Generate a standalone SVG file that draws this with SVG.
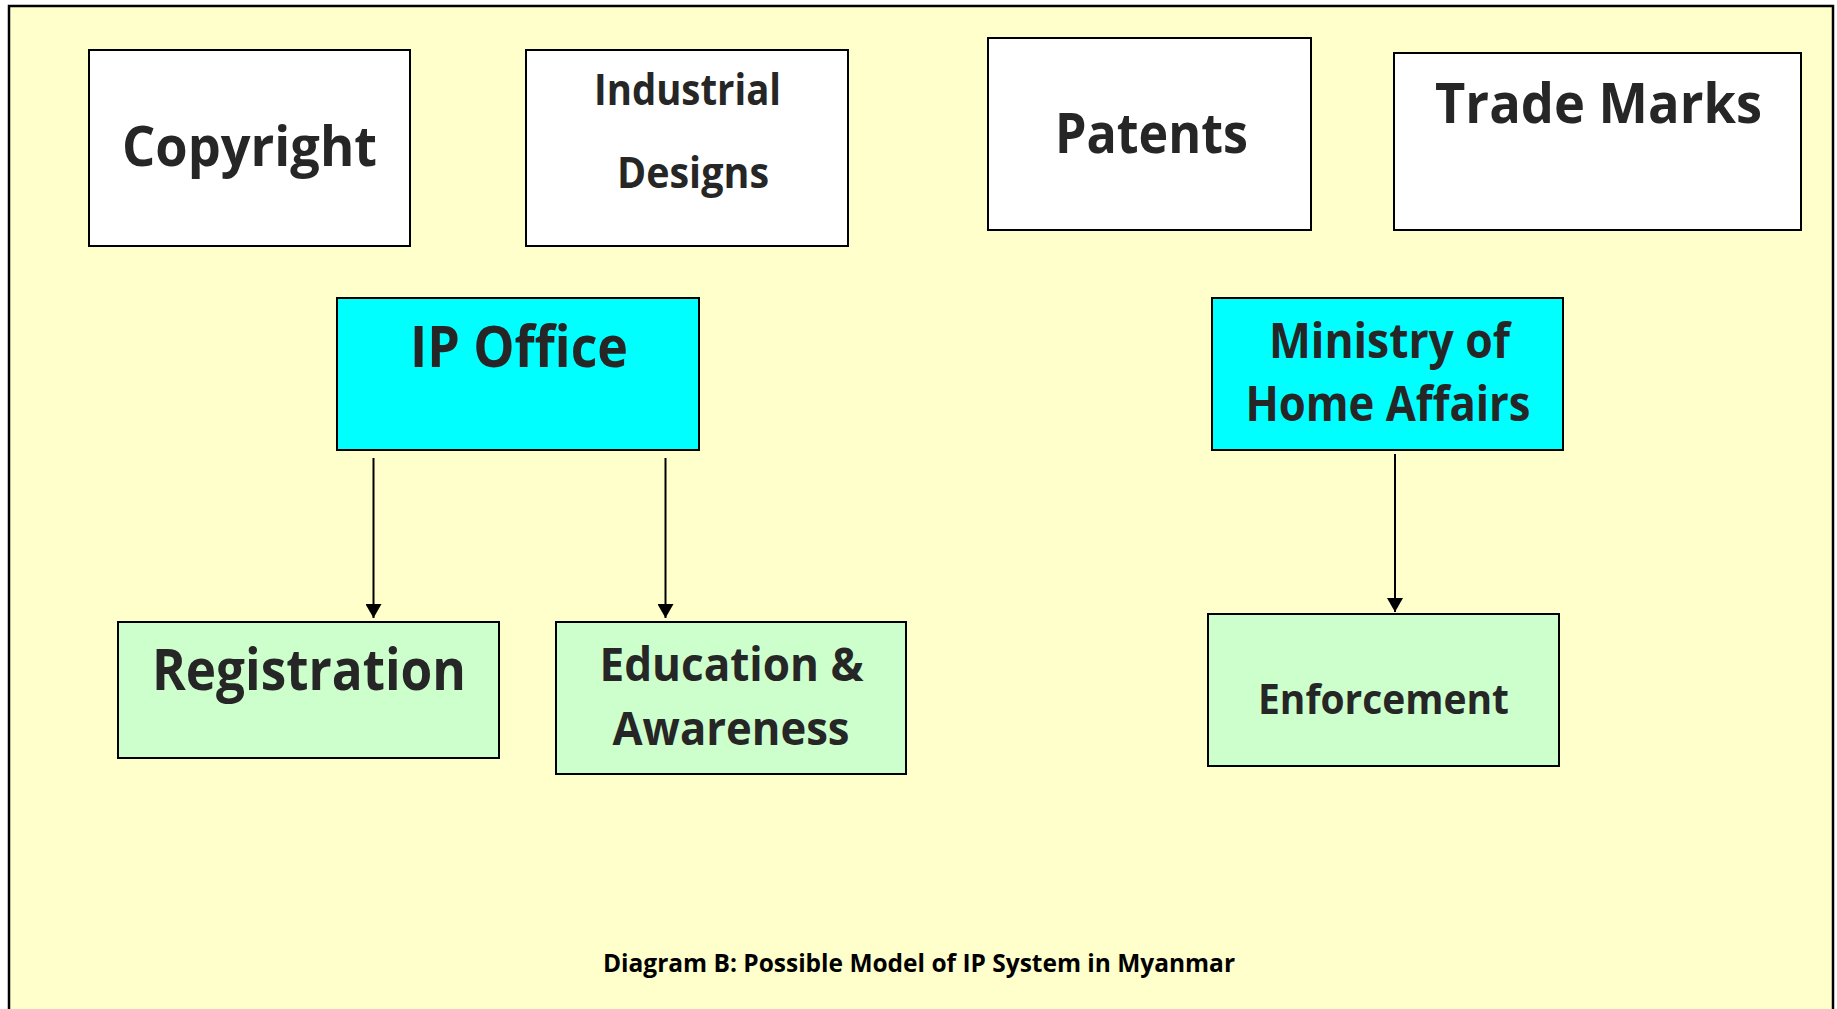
<svg xmlns="http://www.w3.org/2000/svg" width="1837" height="1009" viewBox="0 0 1837 1009">
  <style>
    .box { stroke: #000; stroke-width: 2; }
    .white { fill: #FFFFFF; }
    .cyan { fill: #00FFFF; }
    .green { fill: #CCFFCC; }
    .lbl { font-family: "Open Sans", "Liberation Sans", Arial, sans-serif; font-weight: bold; fill: #262626; text-anchor: middle; }
    .conn { stroke: #000; stroke-width: 2; fill: none; }
    .cap { font-family: "Open Sans", "Liberation Sans", Arial, sans-serif; font-weight: bold; fill: #000; }
  </style>
  <defs>
    <marker id="arrow" viewBox="0 0 14 16" refX="14" refY="8" markerWidth="14" markerHeight="16" markerUnits="userSpaceOnUse" orient="auto">
      <path d="M0,0 L14,8 L0,16 Z" fill="#000"/>
    </marker>
  </defs>

  <rect x="0" y="0" width="1837" height="1009" fill="#FFFFFF"/>
  <rect id="frame" x="9" y="6" width="1824" height="1010" fill="#FFFFCC" stroke="#000" stroke-width="2.5"/>

  <g id="copyright">
    <rect class="box white" x="89" y="50" width="321" height="196"/>
    <text class="lbl" x="249.5" y="166" font-size="56" textLength="255" lengthAdjust="spacingAndGlyphs">Copyright</text>
  </g>
  <g id="industrial-designs">
    <rect class="box white" x="526" y="50" width="322" height="196"/>
    <text class="lbl" x="687.5" y="105" font-size="43" textLength="187" lengthAdjust="spacingAndGlyphs">Industrial</text>
    <text class="lbl" x="693" y="188" font-size="43" textLength="152" lengthAdjust="spacingAndGlyphs">Designs</text>
  </g>
  <g id="patents">
    <rect class="box white" x="988" y="38" width="323" height="192"/>
    <text class="lbl" x="1151.5" y="153" font-size="56" textLength="193" lengthAdjust="spacingAndGlyphs">Patents</text>
  </g>
  <g id="trade-marks">
    <rect class="box white" x="1394" y="53" width="407" height="177"/>
    <text class="lbl" x="1598.5" y="123" font-size="56" textLength="327" lengthAdjust="spacingAndGlyphs">Trade Marks</text>
  </g>

  <g id="ip-office">
    <rect class="box cyan" x="337" y="298" width="362" height="152"/>
    <text class="lbl" x="519" y="367" font-size="57" textLength="218" lengthAdjust="spacingAndGlyphs">IP Office</text>
  </g>
  <g id="ministry">
    <rect class="box cyan" x="1212" y="298" width="351" height="152"/>
    <text class="lbl" x="1389.5" y="358" font-size="48" textLength="241" lengthAdjust="spacingAndGlyphs">Ministry of</text>
    <text class="lbl" x="1388" y="421" font-size="48" textLength="285" lengthAdjust="spacingAndGlyphs">Home Affairs</text>
  </g>

  <g id="registration">
    <rect class="box green" x="118" y="622" width="381" height="136"/>
    <text class="lbl" x="309" y="690" font-size="57" textLength="314" lengthAdjust="spacingAndGlyphs">Registration</text>
  </g>
  <g id="education">
    <rect class="box green" x="556" y="622" width="350" height="152"/>
    <text class="lbl" x="731.5" y="681" font-size="47" textLength="264" lengthAdjust="spacingAndGlyphs">Education &amp;</text>
    <text class="lbl" x="731" y="745" font-size="47" textLength="237" lengthAdjust="spacingAndGlyphs">Awareness</text>
  </g>
  <g id="enforcement">
    <rect class="box green" x="1208" y="614" width="351" height="152"/>
    <text class="lbl" x="1383.5" y="714" font-size="42" textLength="251" lengthAdjust="spacingAndGlyphs">Enforcement</text>
  </g>

  <g id="connectors">
    <line class="conn" x1="373.5" y1="458" x2="373.5" y2="618" marker-end="url(#arrow)"/>
    <line class="conn" x1="665.5" y1="458" x2="665.5" y2="618" marker-end="url(#arrow)"/>
    <line class="conn" x1="1395" y1="454" x2="1395" y2="612" marker-end="url(#arrow)"/>
  </g>

  <text id="caption" class="cap" x="603" y="972" font-size="25" textLength="632" lengthAdjust="spacingAndGlyphs">Diagram B: Possible Model of IP System in Myanmar</text>
</svg>
